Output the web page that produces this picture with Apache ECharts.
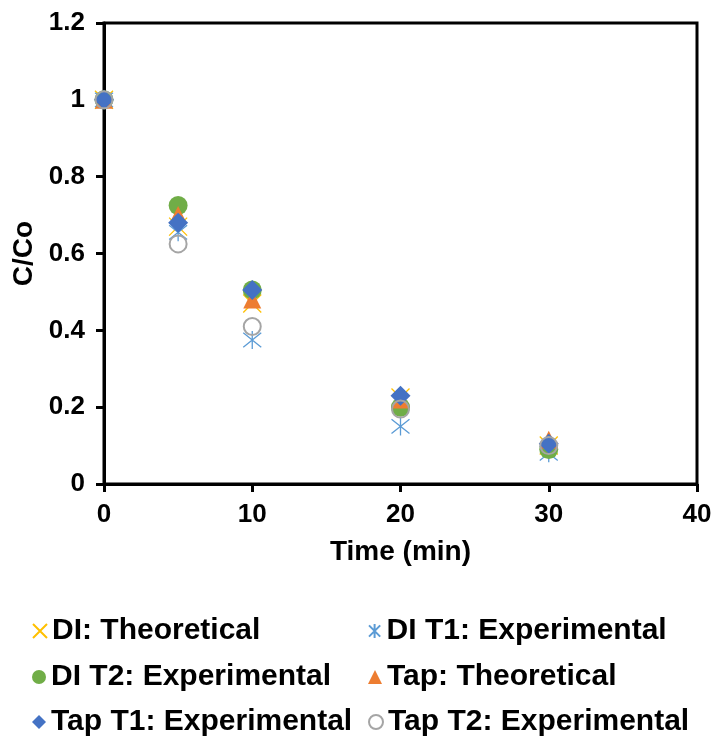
<!DOCTYPE html>
<html>
<head>
<meta charset="utf-8">
<script src="https://cdn.jsdelivr.net/npm/echarts@6/dist/echarts.min.js"></script>
<style>
  html, body { margin: 0; padding: 0; background: #fff; }
  #chart { width: 717px; height: 740px; }
</style>
</head>
<body>
<div id="chart"></div>
<script>
// time points (min)
var times = [0, 5, 10, 20, 30];
// C/Co
var diTheoretical = [1.0, 0.67, 0.47, 0.225, 0.10];
var diT1 = [1.0, 0.655, 0.375, 0.15, 0.08];
var diT2 = [1.0, 0.725, 0.505, 0.20, 0.09];
var tapTheoretical = [1.0, 0.70, 0.48, 0.22, 0.115];
var tapT1 = [1.0, 0.68, 0.505, 0.23, 0.105];
var tapT2 = [1.0, 0.625, 0.41, 0.195, 0.10];

var names = ['DI: Theoretical', 'DI T1: Experimental', 'DI T2: Experimental',
             'Tap: Theoretical', 'Tap T1: Experimental', 'Tap T2: Experimental'];

var xTicks = [0, 10, 20, 30, 40];
var yTicks = [0, 0.2, 0.4, 0.6, 0.8, 1, 1.2];

var pairs = function(ys){
  return times.map(function(t, i){ return [t, ys[i]]; });
};

// marker paths for the cross and the asterisk
var crossPath = 'path://M0,0L10,10M10,0L0,10';
var starPath = 'path://M1,1L9,9M9,1L1,9M5,0L5,10';

var lineSym = function(name, data, path, color){
  return {
    name: name, type: 'scatter', data: pairs(data),
    symbol: path, symbolSize: 18,
    itemStyle: { color: 'rgba(0,0,0,0)', borderColor: color, borderWidth: 1.3, opacity: 1 }
  };
};

// one legend per entry, 2 columns x 3 rows
var legendCol = [32, 368];
var legendRow = [616, 662, 707];
var legends = names.map(function(n, i){
  return {
    data: [n], padding: 0,
    left: legendCol[i % 2], top: legendRow[Math.floor(i / 2)],
    itemWidth: 14, itemHeight: 14, itemGap: 0,
    textStyle: { fontSize: 30, lineHeight: 30, fontWeight: 'bold', color: '#000' }
  };
});

var mCharts = echarts.init(document.getElementById('chart'));
var option = {
  backgroundColor: '#fff',
  animation: false,
  textStyle: { fontFamily: 'Liberation Sans, Arial, sans-serif' },
  grid: {
    left: 104, right: 20, top: 23, bottom: 256,
    show: true, borderColor: '#000', borderWidth: 3, backgroundColor: 'transparent'
  },
  xAxis: {
    type: 'value', min: 0, max: 40, interval: 10,
    name: 'Time (min)', nameLocation: 'middle', nameGap: 54,
    nameTextStyle: { fontSize: 28, fontWeight: 'bold', color: '#000' },
    axisLine: { show: true, lineStyle: { color: '#000', width: 3 } },
    axisTick: { show: true, inside: false, length: 8, lineStyle: { color: '#000', width: 3 } },
    axisLabel: { fontSize: 26, fontWeight: 'bold', color: '#000', margin: 18,
      formatter: function(v){ return xTicks.indexOf(v) >= 0 ? String(v) : ''; } },
    splitLine: { show: false }
  },
  yAxis: {
    type: 'value', min: 0, max: 1.2, interval: 0.2,
    name: 'C/Co', nameLocation: 'middle', nameGap: 64, nameRotate: 90,
    nameTextStyle: { fontSize: 28, fontWeight: 'bold', color: '#000' },
    axisLine: { show: true, lineStyle: { color: '#000', width: 3 } },
    axisTick: { show: true, inside: false, length: 8, lineStyle: { color: '#000', width: 3 } },
    axisLabel: { fontSize: 26, fontWeight: 'bold', color: '#000', margin: 19,
      formatter: function(v){
        var r = Math.round(v * 10) / 10;
        return yTicks.indexOf(r) >= 0 ? String(r) : '';
      } },
    splitLine: { show: false }
  },
  legend: legends,
  series: [
    lineSym(names[0], diTheoretical, crossPath, '#FFC000'),
    lineSym(names[1], diT1, starPath, '#5B9BD5'),
    { name: names[2], type: 'scatter', data: pairs(diT2), symbol: 'circle', symbolSize: 19,
      itemStyle: { color: '#70AD47', opacity: 1 } },
    { name: names[3], type: 'scatter', data: pairs(tapTheoretical), symbol: 'triangle', symbolSize: 18,
      itemStyle: { color: '#ED7D31', opacity: 1 } },
    { name: names[4], type: 'scatter', data: pairs(tapT1), symbol: 'diamond', symbolSize: 20,
      itemStyle: { color: '#4472C4', opacity: 1 } },
    { name: names[5], type: 'scatter', data: pairs(tapT2), symbol: 'circle', symbolSize: 17,
      itemStyle: { color: 'rgba(255,255,255,0)', borderColor: '#A5A5A5', borderWidth: 2, opacity: 1 } }
  ]
};
mCharts.setOption(option);
</script>
</body>
</html>
